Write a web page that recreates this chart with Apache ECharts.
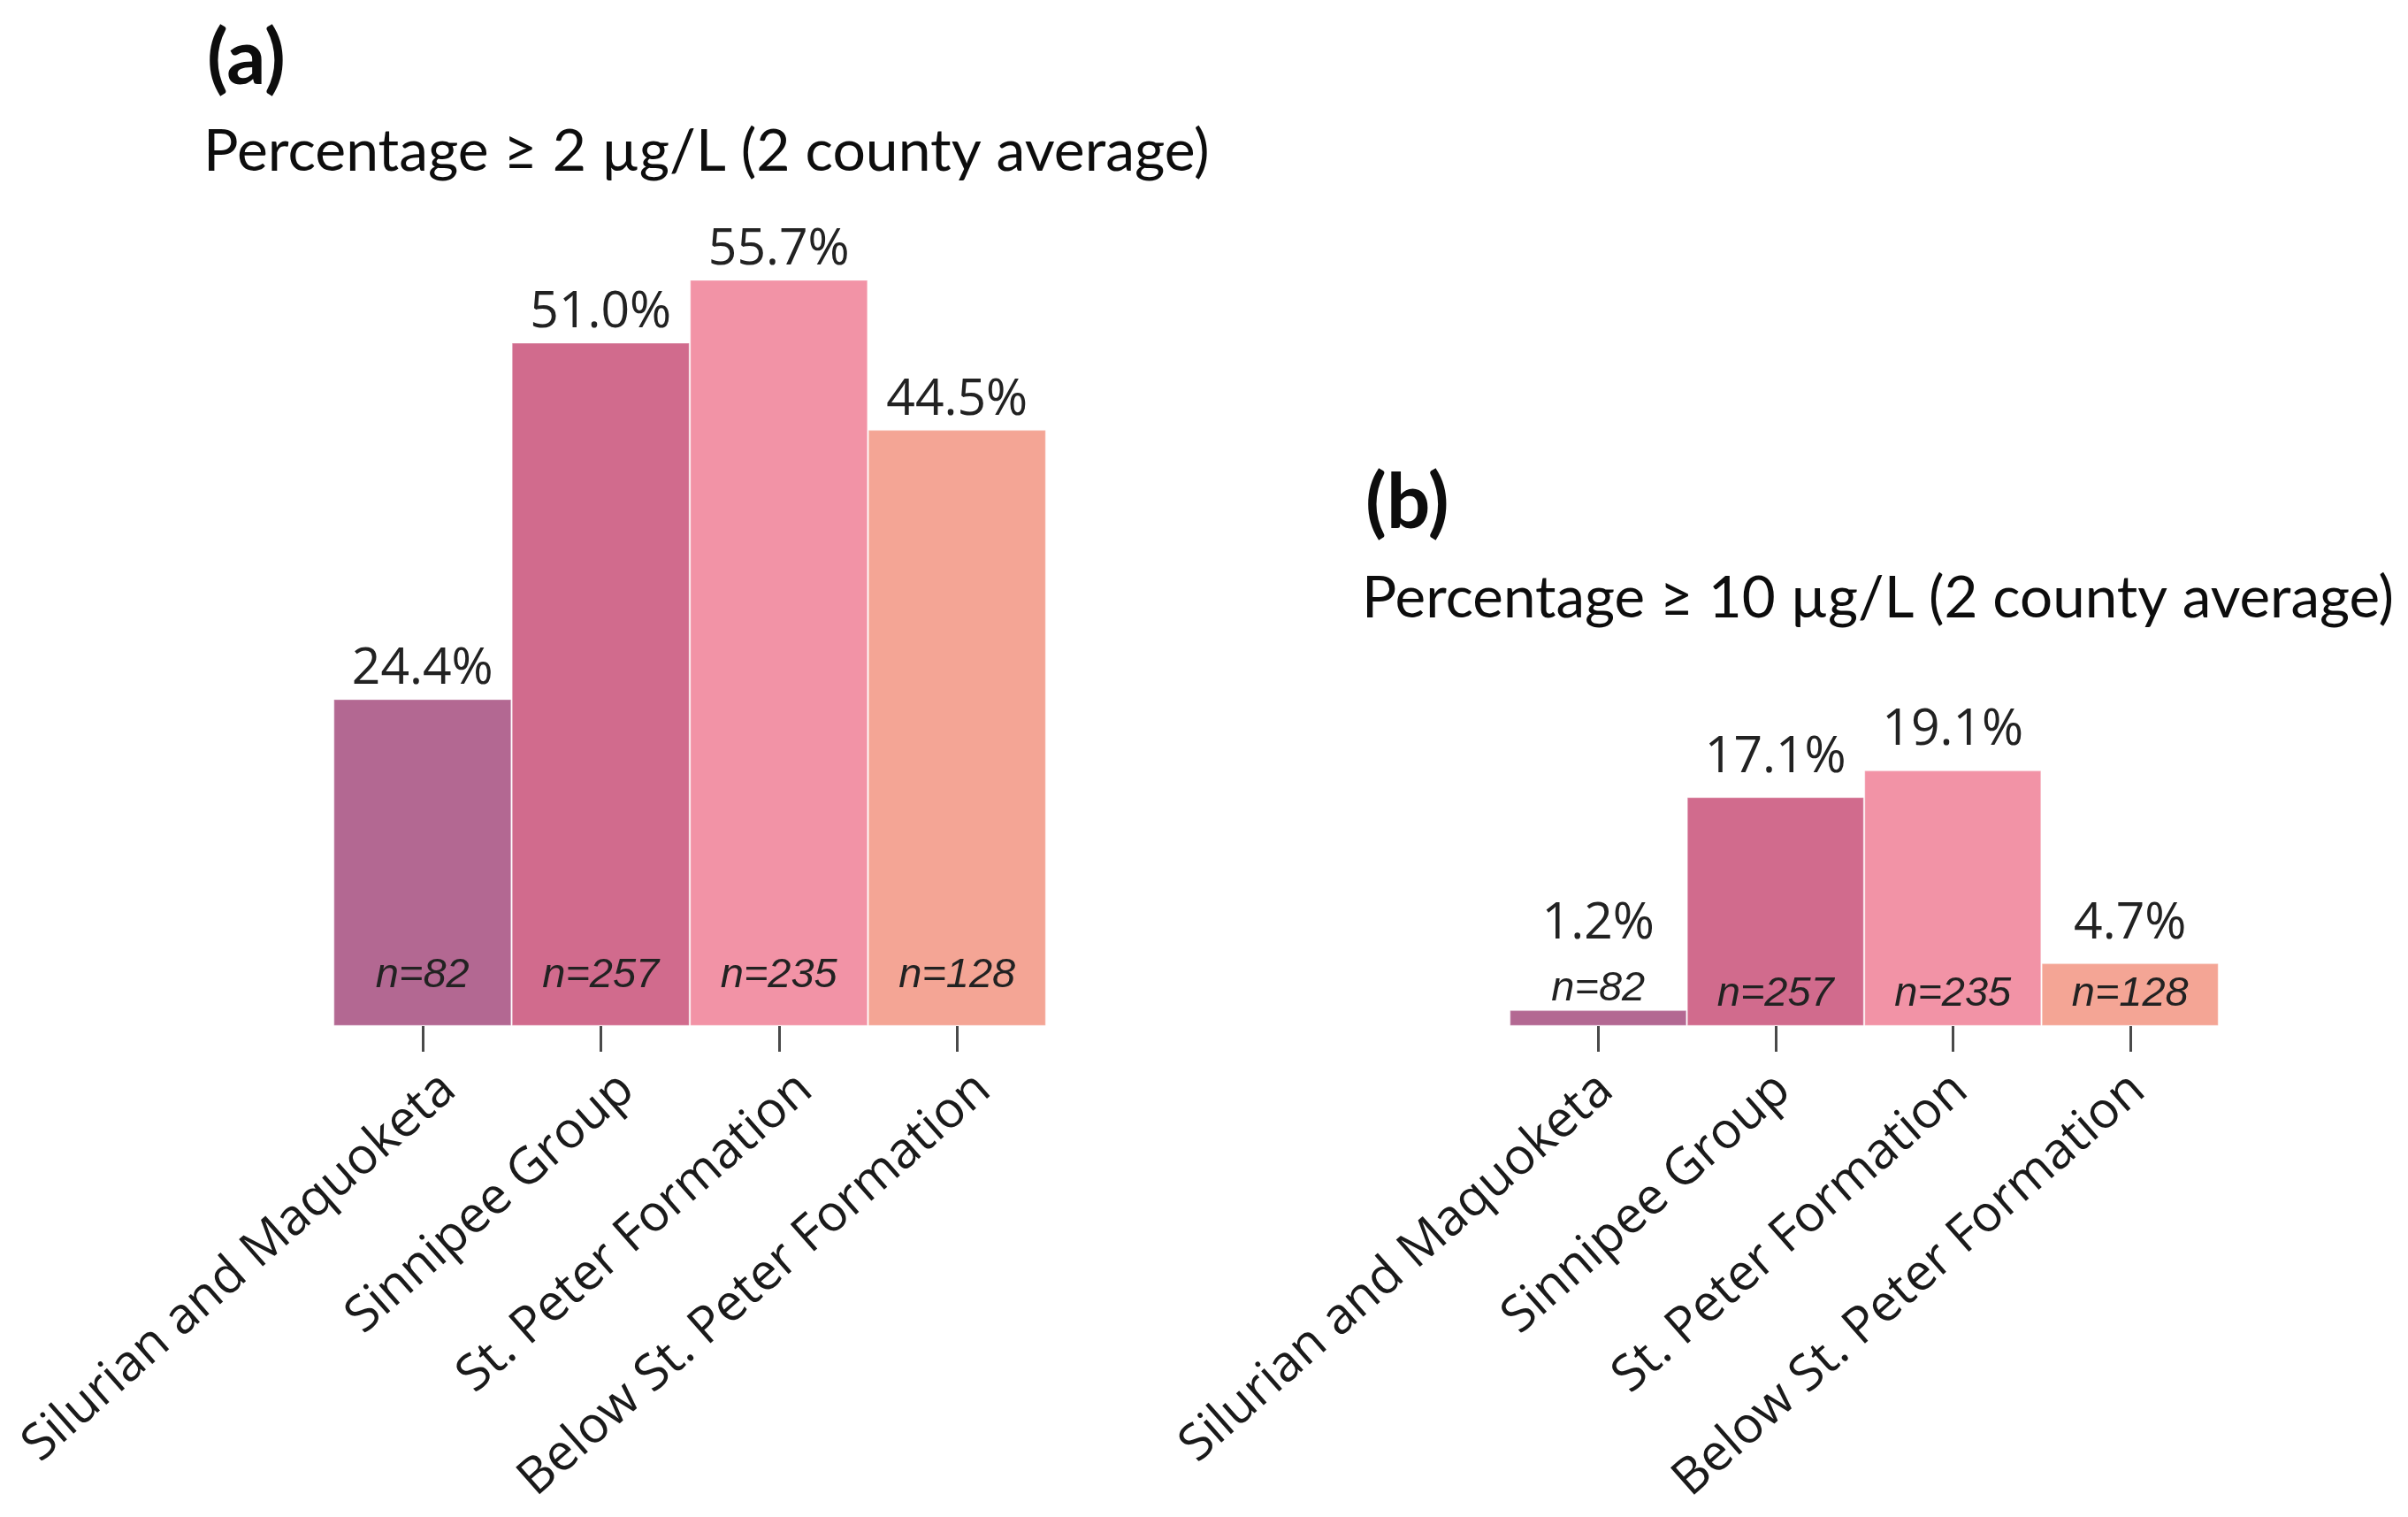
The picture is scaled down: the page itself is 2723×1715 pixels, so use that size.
<!DOCTYPE html>
<html>
<head>
<meta charset="utf-8">
<script src="https://cdn.jsdelivr.net/npm/echarts@6/dist/echarts.min.js"></script>
<style>
  html, body { margin: 0; padding: 0; background: #ffffff; }
  #chart { width: 2723px; height: 1715px; }
</style>
</head>
<body>
<div id="chart"></div>
<script>
// ---------------- data ----------------
const categories = ['Silurian and Maquoketa', 'Sinnipee Group', 'St. Peter Formation', 'Below St. Peter Formation'];
const pctAbove2 = [24.4, 51.0, 55.7, 44.5];   // panel (a): percentage >= 2 µg/L
const pctAbove10 = [1.2, 17.1, 19.1, 4.7];    // panel (b): percentage >= 10 µg/L
const nCounts = [82, 257, 235, 128];
const panelLetters = ['(a)', '(b)'];
const panelTitles = ['Percentage \u2265 2 \u00b5g/L (2 county average)', 'Percentage \u2265 10 \u00b5g/L (2 county average)'];

// ---------------- styling ----------------
const barColors = ['#B36892', '#D16B8D', '#F293A6', '#F4A595'];
const yMax = 60;
const gridTop = 251, gridHeight = 909;
const grids = [
  { left: 377, top: gridTop, width: 806, height: gridHeight, outerBoundsMode: 'none', containLabel: false },
  { left: 1707, top: gridTop, width: 802, height: gridHeight, outerBoundsMode: 'none', containLabel: false }
];
const panelStyle = [
  { valueDist: 5, nDist: 34, labelMargin: 30, labelGap: 90 },
  { valueDist: 16, nDist: 13, labelMargin: 54, labelGap: 27 }
];
const valueFont = { fontFamily: 'Open Sans', fontSize: 57, color: '#222222' };
const nFont = { fontFamily: 'Liberation Sans', fontStyle: 'italic', fontSize: 47, color: '#222222' };
const catFont = { fontFamily: 'Open Sans', fontSize: 57, color: '#1a1a1a' };
const pxPerUnit = gridHeight / yMax;

function buildSeries(values, gi) {
  const st = panelStyle[gi];
  const isShort = v => v * pxPerUnit < nFont.fontSize + st.nDist + 4;
  const mainData = values.map((v, i) => ({
    value: v,
    itemStyle: { color: barColors[i] },
    label: { distance: isShort(v) ? nFont.fontSize + 22 : st.valueDist }
  }));
  const nData = values.map(v => ({
    value: v,
    label: isShort(v) ? { position: 'top', distance: 0 } : { position: 'insideBottom', distance: st.nDist }
  }));
  return [
    {
      type: 'bar',
      xAxisIndex: gi, yAxisIndex: gi,
      data: mainData,
      barCategoryGap: '0%',
      barGap: '-100%',
      itemStyle: { borderColor: 'rgba(255,255,255,0.22)', borderWidth: 1.5 },
      label: {
        show: true,
        position: 'top',
        formatter: p => p.value.toFixed(1) + '%',
        fontFamily: valueFont.fontFamily,
        fontSize: valueFont.fontSize,
        color: valueFont.color
      },
      silent: true,
      emphasis: { disabled: true },
      animation: false
    },
    {
      type: 'bar',
      xAxisIndex: gi, yAxisIndex: gi,
      data: nData,
      barCategoryGap: '0%',
      barGap: '-100%',
      itemStyle: { color: 'rgba(0,0,0,0)' },
      label: {
        show: true,
        formatter: p => 'n=' + nCounts[p.dataIndex],
        fontFamily: nFont.fontFamily,
        fontStyle: nFont.fontStyle,
        fontSize: nFont.fontSize,
        color: nFont.color
      },
      silent: true,
      emphasis: { disabled: true },
      animation: false,
      z: 3
    }
  ];
}

const xAxes = grids.map((g, gi) => ({
  type: 'category',
  gridIndex: gi,
  data: categories,
  boundaryGap: true,
  axisLine: { show: false },
  axisTick: { show: true, alignWithLabel: true, length: 29, lineStyle: { color: '#4a4a4a', width: 3 } },
  axisLabel: {
    interval: 0,
    rotate: 41.5,
    margin: panelStyle[gi].labelMargin,
    hideOverlap: false,
    formatter: v => '{gap| }\n{lab|' + v + '}',
    rich: {
      gap: { fontSize: 1, lineHeight: panelStyle[gi].labelGap },
      lab: { fontFamily: catFont.fontFamily, fontSize: catFont.fontSize, color: catFont.color, lineHeight: 64 }
    }
  },
  splitLine: { show: false }
}));

const yAxes = grids.map((g, gi) => ({
  type: 'value',
  gridIndex: gi,
  min: 0, max: yMax,
  show: false
}));

const titleFont = 'Lato';
const graphics = [
  { type: 'text', x: 234, y: 67, style: { text: panelLetters[0], fontFamily: titleFont, fontWeight: 'bold', fontSize: 87, fill: '#0d0d0d', verticalAlign: 'middle', align: 'left' } },
  { type: 'text', x: 230, y: 172, style: { text: panelTitles[0], fontFamily: titleFont, fontSize: 66, fill: '#0d0d0d', verticalAlign: 'middle', align: 'left' } },
  { type: 'text', x: 1544, y: 569, style: { text: panelLetters[1], fontFamily: titleFont, fontWeight: 'bold', fontSize: 87, fill: '#0d0d0d', verticalAlign: 'middle', align: 'left' } },
  { type: 'text', x: 1540, y: 677, style: { text: panelTitles[1], fontFamily: titleFont, fontSize: 65.5, fill: '#0d0d0d', verticalAlign: 'middle', align: 'left' } }
];

const chart = echarts.init(document.getElementById('chart'), null, { renderer: 'canvas' });
chart.setOption({
  backgroundColor: '#ffffff',
  animation: false,
  grid: grids,
  xAxis: xAxes,
  yAxis: yAxes,
  series: [...buildSeries(pctAbove2, 0), ...buildSeries(pctAbove10, 1)],
  graphic: graphics
});
</script>
</body>
</html>
